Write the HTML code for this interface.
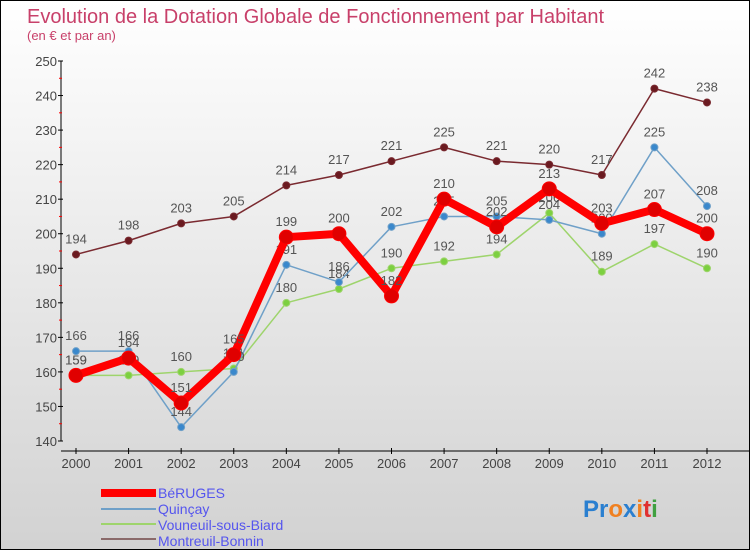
<!DOCTYPE html>
<html><head><meta charset="utf-8"><style>
body{margin:0}
#c{width:748px;height:548px;border:1px solid #000;background:linear-gradient(#fff,#d2d2d2);position:relative;overflow:hidden;font-family:"Liberation Sans",sans-serif}
</style></head><body>
<div id="c">
<svg width="748" height="548" id="s">
<text x="26" y="22" font-size="20" fill="#c8406a">Evolution de la Dotation Globale de Fonctionnement par Habitant</text>
<text x="26" y="39" font-size="13" fill="#c8406a">(en € et par an)</text>
<g id="ax"></g><g id="ser"></g>
<g>
<rect x="100" y="488" width="55" height="8" fill="#f00"/>
<text x="157" y="497" font-size="14" fill="#5555ee">BéRUGES</text>
<rect x="100" y="507" width="55" height="2" fill="#6fa0c8"/>
<text x="157" y="513" font-size="14" fill="#5555ee">Quinçay</text>
<rect x="100" y="522" width="55" height="2" fill="#9ed46c"/>
<text x="157" y="529" font-size="14" fill="#5555ee">Vouneuil-sous-Biard</text>
<rect x="100" y="537" width="55" height="2" fill="#8a6a6a"/>
<text x="157" y="545" font-size="14" fill="#5555ee">Montreuil-Bonnin</text>
</g>
<text x="582" y="516" font-size="24" font-weight="bold"><tspan fill="#2a7fd0">Pr</tspan><tspan fill="#f08020">o</tspan><tspan fill="#2a7fd0">x</tspan><tspan fill="#f08020">i</tspan><tspan fill="#e03030">t</tspan><tspan fill="#40a040">i</tspan></text>
</svg></div>
<script>
const years=[2000,2001,2002,2003,2004,2005,2006,2007,2008,2009,2010,2011,2012];
const yTicks=[140,150,160,170,180,190,200,210,220,230,240,250];
const beruges=[159,164,151,165,199,200,182,210,202,213,203,207,200];
const quincay=[166,166,144,160,191,186,202,205,205,204,200,225,208];
const vouneuil=[159,159,160,161,180,184,190,192,194,206,189,197,190];
const montreuil=[194,198,203,205,214,217,221,225,221,220,217,242,238];
const NS="http://www.w3.org/2000/svg";
function X(i){return 75+i*(706-75)/(years.length-1);}
function Y(v){return 60+(250-v)*3.4545;}
function mk(t,a,p){const e=document.createElementNS(NS,t);for(const k in a)e.setAttribute(k,a[k]);p.appendChild(e);return e;}
const ax=document.getElementById('ax');
let l=mk('line',{x1:60,y1:Y(250),x2:60,y2:Y(140),stroke:'#000','stroke-width':1},ax);


l=mk('line',{x1:60,y1:450,x2:748,y2:450,stroke:'#000','stroke-width':1},ax);


yTicks.forEach((v,i)=>{
 mk('line',{x1:57,y1:Y(v),x2:62,y2:Y(v),stroke:'#000'},ax);
 if(i<yTicks.length-1)mk('line',{x1:58,y1:Y(v+5),x2:61,y2:Y(v+5),stroke:'#f00'},ax);
 const t=mk('text',{x:56,y:Y(v)+5,'font-size':13,fill:'#444','text-anchor':'end'},ax);t.textContent=v;
 
 
});
years.forEach((y,i)=>{
 mk('line',{x1:X(i),y1:447,x2:X(i),y2:453,stroke:'#000'},ax);
 const t=mk('text',{x:X(i),y:467,'font-size':13,fill:'#444','text-anchor':'middle'},ax);t.textContent=y;
 
 
});
const ser=document.getElementById('ser');
function draw(data,color,w,r,name,dot){
 const g=mk('g',{},ser);
 
 
 const pl=mk('polyline',{points:data.map((v,i)=>X(i)+','+Y(v)).join(' '),fill:'none',stroke:color,'stroke-width':w,'stroke-linejoin':'round'},g);
 
 
 data.forEach((v,i)=>{
  const c=mk('circle',{cx:X(i),cy:Y(v),r:r,fill:dot,stroke:color,'stroke-width':1},g);
  
  
  const t=mk('text',{x:X(i),y:Y(v)-11,'font-size':13,fill:'#555','text-anchor':'middle'},g);t.textContent=v;
  
  
 });
}
draw(montreuil,'#7a2a30',1.5,3.5,'montreuil','#6a1a20');
draw(vouneuil,'#9ed46c',1.5,3.5,'vouneuil','#7cd040');
draw(quincay,'#6fa0c8',1.5,3.5,'quincay','#3a88cc');
draw(beruges,'#f00',8,7,'beruges','#e00000');
</script>
</body></html>
